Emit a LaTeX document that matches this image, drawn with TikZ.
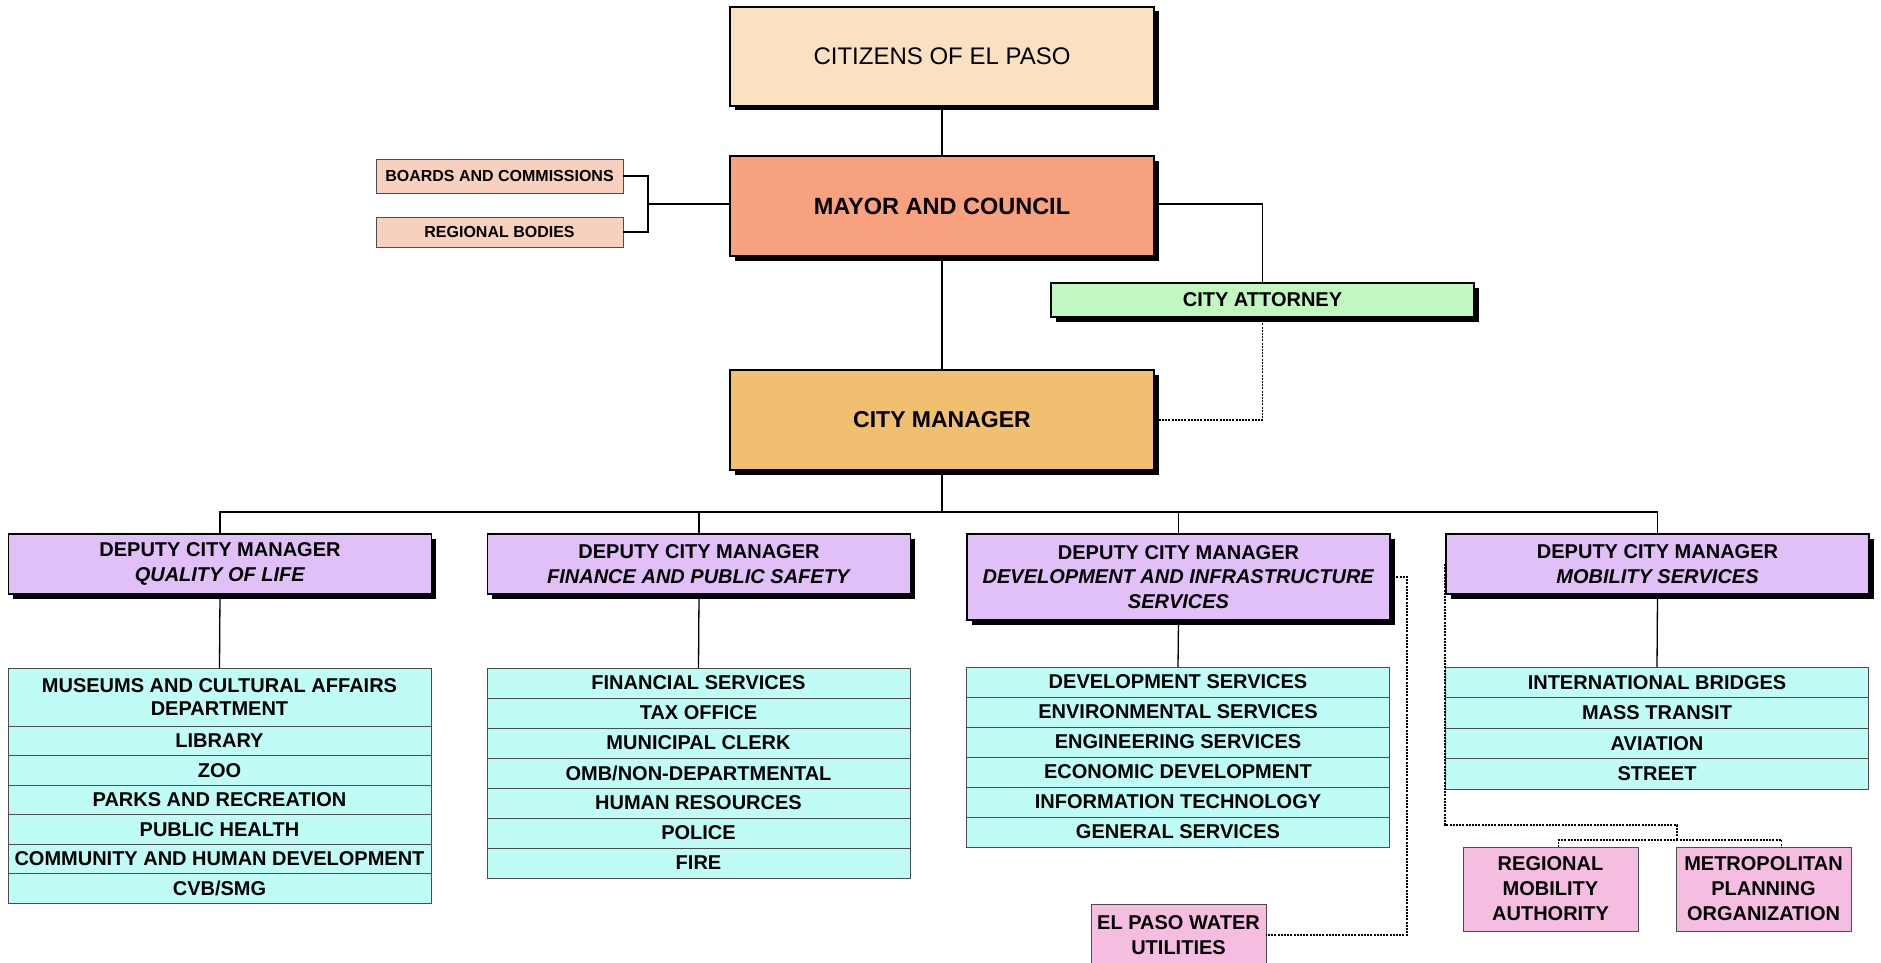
\documentclass[tikz,border=0pt]{standalone}
\usepackage{fontspec}
\setmainfont{Liberation Sans}
\usetikzlibrary{shadows,positioning}
\definecolor{citz}{RGB}{250,225,194}
\definecolor{mayorc}{RGB}{247,161,127}
\definecolor{boardc}{RGB}{248,209,190}
\definecolor{attc}{RGB}{192,248,192}
\definecolor{mgrc}{RGB}{240,192,112}
\definecolor{dcmc}{RGB}{224,192,246}
\definecolor{itemc}{RGB}{192,252,246}
\definecolor{pinkc}{RGB}{245,190,225}
\begin{document}
\begin{tikzpicture}[x=1pt,y=-1pt,
  main/.style={draw=black, line width=1.3pt, inner sep=2pt, outer sep=0pt, align=center,
    drop shadow={shadow xshift=4.5pt,shadow yshift=-4.5pt,fill=black,opacity=1}},
  plainbox/.style={draw=black!70, line width=0.9pt, inner sep=2pt, outer sep=0pt, align=center},
  item/.style={plainbox, fill=itemc, minimum width=423pt, minimum height=30pt, inner sep=0pt,
    font=\fontsize{20}{23.5}\selectfont\bfseries},
  dcm/.style={main, fill=dcmc, minimum width=423pt, minimum height=60pt,
    font=\fontsize{20}{24.5}\selectfont\bfseries},
  conn/.style={line width=1.3pt, black},
  dots/.style={line width=1.5pt, black, dash pattern=on 2pt off 1.2pt},
  node distance=0pt]
\useasboundingbox (0,0) rectangle (1881,963);
\clip (0,0) rectangle (1881,963);

% top chain
\node[main, fill=citz, minimum width=424pt, minimum height=99pt,
  font=\fontsize{24}{28}\selectfont] (citizens) at (942,56.5) {CITIZENS OF EL PASO};
\node[main, fill=mayorc, minimum width=424pt, minimum height=100pt,
  font=\fontsize{23.5}{28}\selectfont\bfseries] (mayor) at (942,206) {MAYOR AND COUNCIL};
\node[plainbox, fill=boardc, minimum width=247pt, minimum height=34pt,
  font=\fontsize{16}{19}\selectfont\bfseries] (boards) at (499.5,176) {BOARDS AND COMMISSIONS};
\node[plainbox, fill=boardc, minimum width=247pt, minimum height=30pt,
  font=\fontsize{16}{19}\selectfont\bfseries] (regional) at (499.5,232) {REGIONAL BODIES};
\node[main, fill=attc, minimum width=423pt, minimum height=34pt,
  font=\fontsize{20}{24}\selectfont\bfseries] (attorney) at (1262.5,300) {CITY ATTORNEY};
\node[main, fill=mgrc, minimum width=424pt, minimum height=100pt,
  font=\fontsize{23}{28}\selectfont\bfseries] (manager) at (942,420) {CITY MANAGER};

\coordinate (bk) at (648,204);
\coordinate (bus) at (942,512);

\draw[conn] (citizens) -- (mayor);
\draw[conn] (mayor) -- (manager);
\draw[conn] (boards.east) -| (bk) |- (regional.east);
\draw[conn] (bk) -- (bk -| mayor.west);
\draw[conn] (mayor.east |- bk) -| (attorney.north);
\draw[dots] (attorney.south) |- (manager.east);

% deputies
\node[dcm] (dcm1) at (220,564) {DEPUTY CITY MANAGER\\\textit{QUALITY OF LIFE}};
\node[dcm] (dcm2) at (699,564) {DEPUTY CITY MANAGER\\\textit{FINANCE AND PUBLIC SAFETY}};
\node[dcm, minimum height=86pt] (dcm3) at (1178.5,577) {DEPUTY CITY MANAGER\\\textit{DEVELOPMENT AND INFRASTRUCTURE}\\\textit{SERVICES}};
\node[dcm] (dcm4) at (1657.5,564) {DEPUTY CITY MANAGER\\\textit{MOBILITY SERVICES}};

\draw[conn] (manager.south) -- (bus);
\draw[conn] (dcm1.north) -- (dcm1.north |- bus) -- (dcm4.north |- bus) -- (dcm4.north);
\draw[conn] (dcm2.north) -- (dcm2.north |- bus);
\draw[conn] (dcm3.north) -- (dcm3.north |- bus);

% list 1
\node[item, anchor=north, minimum height=58pt] (q1) at (219.5,668) {MUSEUMS AND CULTURAL AFFAIRS\\DEPARTMENT};
\node[item, below=of q1, minimum height=29.5pt] (q2) {LIBRARY};
\node[item, below=of q2, minimum height=29.5pt] (q3) {ZOO};
\node[item, below=of q3, minimum height=29.5pt] (q4) {PARKS AND RECREATION};
\node[item, below=of q4, minimum height=29.5pt] (q5) {PUBLIC HEALTH};
\node[item, below=of q5, minimum height=29.5pt] (q6) {COMMUNITY AND HUMAN DEVELOPMENT};
\node[item, below=of q6, minimum height=29.5pt] (q7) {CVB/SMG};

% list 2
\node[item, anchor=north] (f1) at (698.5,668) {FINANCIAL SERVICES};
\node[item, below=of f1] (f2) {TAX OFFICE};
\node[item, below=of f2] (f3) {MUNICIPAL CLERK};
\node[item, below=of f3] (f4) {OMB/NON-DEPARTMENTAL};
\node[item, below=of f4] (f5) {HUMAN RESOURCES};
\node[item, below=of f5] (f6) {POLICE};
\node[item, below=of f6] (f7) {FIRE};

% list 3
\node[item, anchor=north] (d1) at (1178,667) {DEVELOPMENT SERVICES};
\node[item, below=of d1] (d2) {ENVIRONMENTAL SERVICES};
\node[item, below=of d2] (d3) {ENGINEERING SERVICES};
\node[item, below=of d3] (d4) {ECONOMIC DEVELOPMENT};
\node[item, below=of d4] (d5) {INFORMATION TECHNOLOGY};
\node[item, below=of d5] (d6) {GENERAL SERVICES};

% list 4
\node[item, anchor=north, minimum height=30.5pt] (m1) at (1657,667) {INTERNATIONAL BRIDGES};
\node[item, below=of m1, minimum height=30.5pt] (m2) {MASS TRANSIT};
\node[item, below=of m2, minimum height=30.5pt] (m3) {AVIATION};
\node[item, below=of m3, minimum height=30.5pt] (m4) {STREET};

\draw[conn] (dcm1.south) -- (q1.north);
\draw[conn] (dcm2.south) -- (f1.north);
\draw[conn] (dcm3.south) -- (d1.north);
\draw[conn] (dcm4.south) -- (m1.north);

% pink boxes
\node[plainbox, fill=pinkc, minimum width=175pt, minimum height=62pt,
  font=\fontsize{20}{25}\selectfont\bfseries] (epwu) at (1178.5,935) {EL PASO WATER\\UTILITIES};
\node[plainbox, fill=pinkc, minimum width=175pt, minimum height=84pt,
  font=\fontsize{20}{25}\selectfont\bfseries] (rma) at (1550.5,889) {REGIONAL\\MOBILITY\\AUTHORITY};
\node[plainbox, fill=pinkc, minimum width=175pt, minimum height=84pt,
  font=\fontsize{20}{25}\selectfont\bfseries] (mpo) at (1763.5,889) {METROPOLITAN\\PLANNING\\ORGANIZATION};

\coordinate (w1) at (1407,935);
\draw[dots] (dcm3.east) -| (w1) -- (epwu.east);

\coordinate (k2) at (1677,825);
\coordinate (k3) at (1677,840);
\draw[dots] ([xshift=-1pt]dcm4.west) |- (k2) -- (k3);
\draw[dots] ([xshift=8pt]rma.north) |- (k3) -| ([xshift=18pt]mpo.north);
\end{tikzpicture}
\end{document}
